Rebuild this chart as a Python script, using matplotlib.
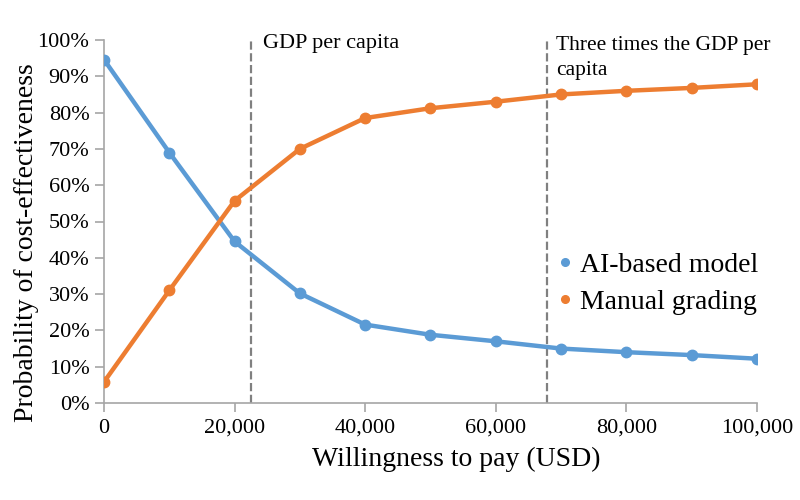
import matplotlib.pyplot as plt
import matplotlib.ticker as ticker

# данные кривой приемлемости
wtp = [0, 10000, 20000, 30000, 40000, 50000, 60000, 70000, 80000, 90000, 100000]
ai_model = [94.6, 69.0, 44.5, 30.2, 21.6, 18.8, 17.0, 15.0, 14.0, 13.2, 12.2]
manual = [5.8, 31.0, 55.7, 70.0, 78.5, 81.2, 83.0, 85.0, 86.0, 86.8, 87.8]

gdp_per_capita = 22500
three_gdp = 67800

plt.rcParams['font.family'] = ['Liberation Serif', 'DejaVu Serif']

fig = plt.figure(figsize=(8, 5), dpi=100)
ax = fig.add_axes([0.13, 0.194, 0.816, 0.726])

ax.plot(wtp, ai_model, color='#5B9BD5', linewidth=3.2, marker='o', markersize=7.5,
        label='AI-based model', zorder=3)
ax.plot(wtp, manual, color='#ED7D31', linewidth=3.2, marker='o', markersize=7.5,
        label='Manual grading', zorder=3)

# пороги готовности платить
ax.axvline(gdp_per_capita, color='#808080', linestyle='--', linewidth=1.6, zorder=2)
ax.axvline(three_gdp, color='#808080', linestyle='--', linewidth=1.6, zorder=2)
ax.text(gdp_per_capita + 1850, 99.0, 'GDP per capita', fontsize=16, va='center', clip_on=False)
ax.text(three_gdp + 1400, 95.0, 'Three times the GDP per\ncapita', fontsize=15.5,
        va='center', linespacing=1.45, clip_on=False)

ax.set_xlim(0, 100000)
ax.set_ylim(0, 100)
ax.set_xticks(range(0, 100001, 20000))
ax.set_yticks(range(0, 101, 10))
ax.xaxis.set_major_formatter(ticker.FuncFormatter(lambda x, _: f'{int(x):,}'))
ax.yaxis.set_major_formatter(ticker.FuncFormatter(lambda y, _: f'{int(y)}%'))

for side in ['top', 'right']:
    ax.spines[side].set_visible(False)
for side in ['left', 'bottom']:
    ax.spines[side].set_color('#A6A6A6')
    ax.spines[side].set_linewidth(1.2)
ax.tick_params(axis='both', colors='#A6A6A6', labelcolor='black', labelsize=16,
               length=6.5, width=1.2)
ax.tick_params(axis='y', pad=4)
ax.tick_params(axis='x', pad=5)

ax.set_xlabel('Willingness to pay (USD)', fontsize=20)
ax.set_ylabel('Probability of cost-effectiveness', fontsize=20)
ax.xaxis.set_label_coords(0.54, -0.122)
ax.yaxis.set_label_coords(-0.1, 0.441)

leg = ax.legend(loc='center left', bbox_to_anchor=(0.696, 0.433), bbox_transform=fig.transFigure,
                frameon=False, fontsize=20, handlelength=0.6, handletextpad=0.25,
                labelspacing=0.42, borderpad=0, borderaxespad=0)
for line in leg.legend_handles:
    line.set_linewidth(0)
    line.set_markersize(5.5)

plt.savefig('out.png', dpi=100)
plt.close()
